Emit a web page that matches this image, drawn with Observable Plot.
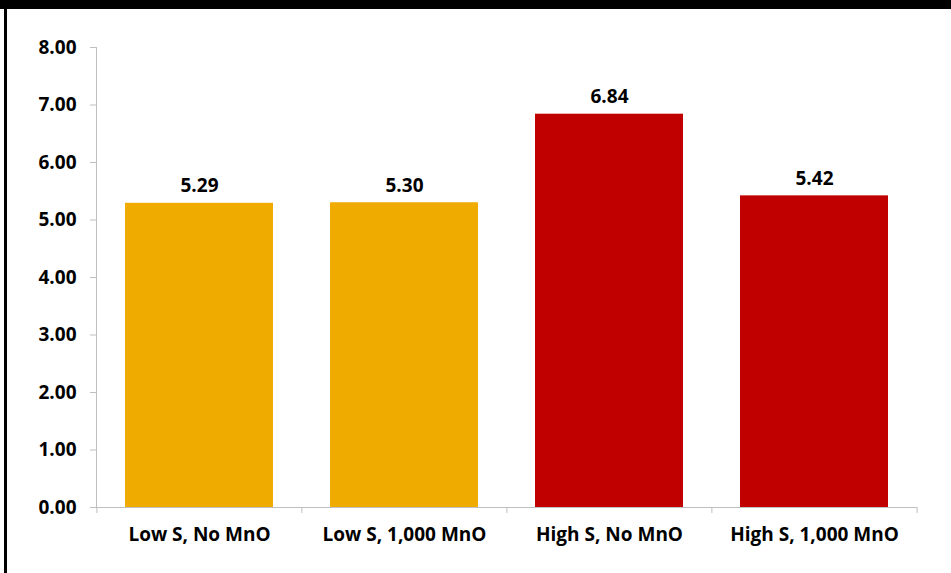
<!DOCTYPE html>
<html>
<head>
<meta charset="utf-8">
<script src="https://cdn.jsdelivr.net/npm/d3@7"></script>
<script src="https://cdn.jsdelivr.net/npm/@observablehq/plot@0.6"></script>
<style>
  html, body { margin: 0; padding: 0; background: #fff; }
  #wrap { position: relative; width: 951px; height: 573px; overflow: hidden; }
  #topbar { position: absolute; left: 0; top: 0; width: 951px; height: 9px; background: #000; z-index: 2; }
  #leftbar { position: absolute; left: 4px; top: 0; width: 3px; height: 573px; background: #000; z-index: 2; }
  #chart { position: absolute; left: 0; top: 0; }
  #chart svg g[aria-label="y-axis tick"] { stroke: #bfbfbf; }
</style>
</head>
<body>
<div id="wrap">
  <div id="topbar"></div>
  <div id="leftbar"></div>
  <div id="chart"></div>
</div>
<script>
const categories = ["Low S, No MnO", "Low S, 1,000 MnO", "High S, No MnO", "High S, 1,000 MnO"];
const values = [5.29, 5.30, 6.84, 5.42];
const groups = ["Low S", "Low S", "High S", "High S"];
const yTicks = [0, 1, 2, 3, 4, 5, 6, 7, 8];

const data = categories.map((c, i) => ({category: c, value: values[i], group: groups[i]}));

const W = 951, H = 573, ML = 96, MR = 34, MT = 47, MB = 66;
const step = (W - ML - MR) / categories.length;
const font = "'Open Sans', Lato, sans-serif";

const plot = Plot.plot({
  width: W,
  height: H,
  marginLeft: ML,
  marginRight: MR,
  marginTop: MT,
  marginBottom: MB,
  style: {fontFamily: font, fontWeight: "bold", color: "#000", background: "transparent"},
  x: {domain: categories, paddingInner: 0.28, paddingOuter: 0.14, label: null},
  y: {domain: [0, 8], label: null},
  color: {domain: ["Low S", "High S"], range: ["#F0AB00", "#C00000"]},
  marks: [
    Plot.barY(data, {x: "category", y: "value", fill: "group"}),
    Plot.frame({anchor: "left", stroke: "#bfbfbf"}),
    Plot.ruleY([0], {stroke: "#bfbfbf"}),
    Plot.ruleX(categories, {x: d => d, y1: 0, y2: 0, dx: -step / 2, insetTop: 6, stroke: "#bfbfbf"}),
    Plot.ruleX([categories[categories.length - 1]], {x: d => d, y1: 0, y2: 0, dx: step / 2, insetTop: 6, stroke: "#bfbfbf"}),
    Plot.axisY(yTicks, {tickSize: 6, tickPadding: 14, tickFormat: d3.format(".2f"), fontSize: 19, fontWeight: "bold", label: null}),
    Plot.axisX({tickSize: 0, tickPadding: 20, fontSize: 19, fontWeight: "bold", label: null}),
    Plot.text(data, {x: "category", y: "value", text: d => d.value.toFixed(2), dy: -17, fontSize: 19, fontWeight: "bold", fill: "#000"})
  ]
});
document.getElementById("chart").appendChild(plot);
</script>
</body>
</html>
